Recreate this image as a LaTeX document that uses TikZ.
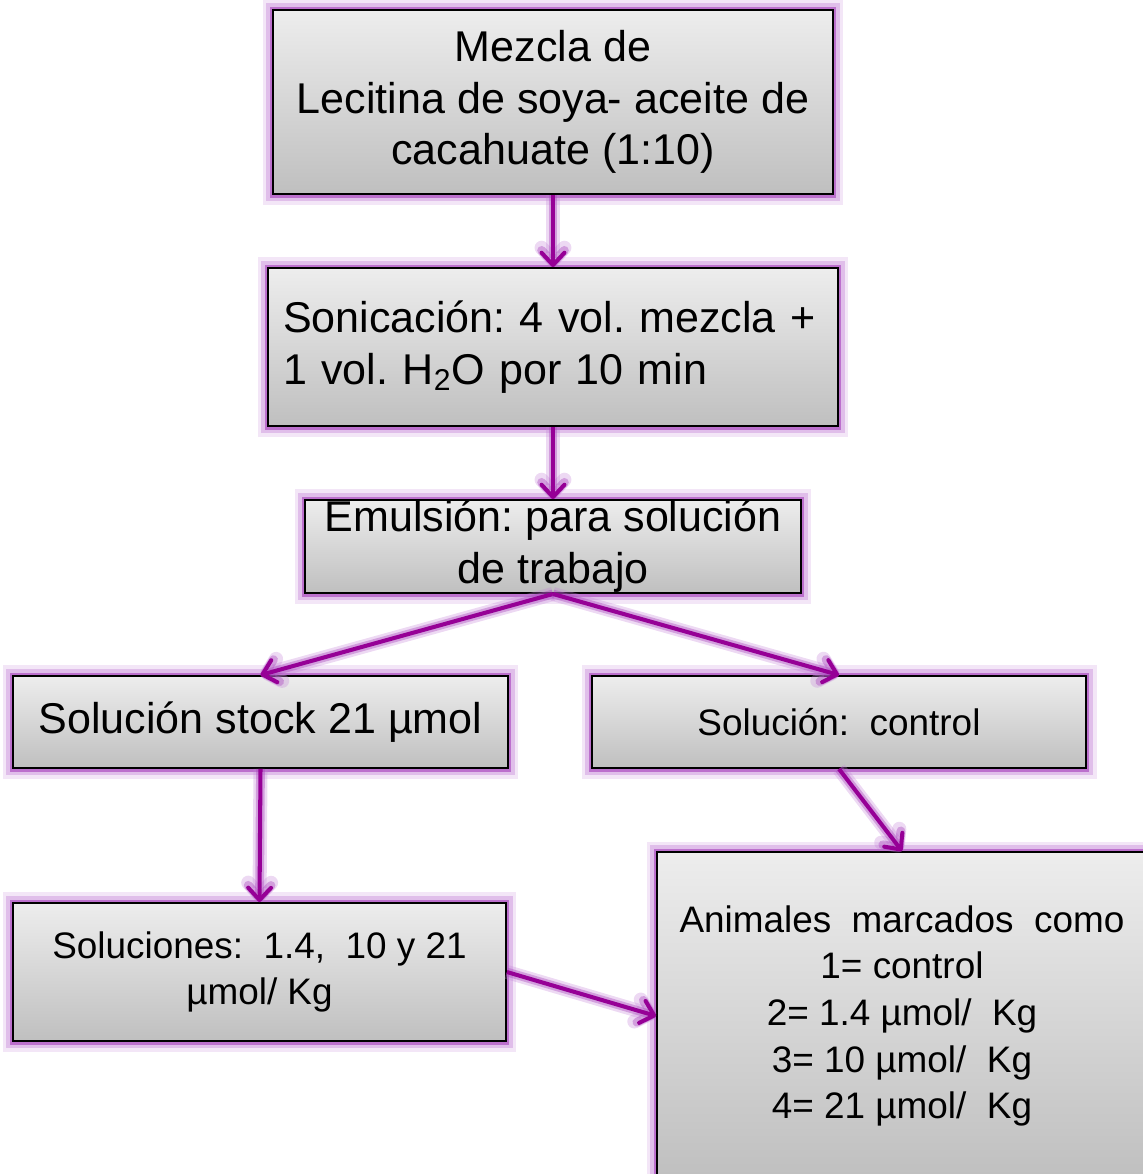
\documentclass[tikz,border=0pt]{standalone}
\usepackage{fontspec}
\setmainfont{Liberation Sans}
\usetikzlibrary{arrows.meta}
\definecolor{glowpurple}{RGB}{195,130,215}
\definecolor{glowdeep}{RGB}{170,70,190}
\definecolor{arrowpurple}{RGB}{150,0,150}
\frenchspacing

\begin{document}
\begin{tikzpicture}[x=0.02cm,y=-0.02cm,
    box/.style={draw=black,line width=1.1pt,top color=gray!14,bottom color=gray!50,
      preaction={draw=glowpurple,line width=12pt,opacity=0.2},
      preaction={draw=glowpurple,line width=8pt,opacity=0.4},
      preaction={draw=glowdeep,line width=4pt,opacity=0.65},
      inner sep=0pt,align=center},
    big/.style={font=\fontsize{24.5}{29.5}\selectfont},
    small/.style={font=\fontsize{21}{26.5}\selectfont},
    flow/.style={draw=arrowpurple,line width=2.3pt,
      -{Straight Barb[length=7pt,width=13pt,round]},
      preaction={draw=glowpurple,line width=8pt,opacity=0.3},
      preaction={draw=glowdeep,line width=5pt,opacity=0.4}}]
      \useasboundingbox (0,0) rectangle (1143,1174);
      \clip (0,0) rectangle (1143,1174);
      \node[box,big,minimum width=11.2cm,minimum height=3.68cm] (mezcla) at (553,102)
        {Mezcla de\\Lecitina de soya- aceite de\\cacahuate (1:10)};
      \node[box,big,minimum width=11.4cm,minimum height=3.16cm,text width=10.8cm,align=left] (sonic) at (553,347)
        {Sonicación: 4 vol. mezcla +\\1 vol. H\textsubscript{2}O por 10 min};
      \node[box,minimum width=9.92cm,minimum height=1.86cm] (emul) at (553,546.5) {};
      \node[big,align=center,inner sep=0pt] (emultxt) at (emul.center) {Emulsión: para solución\\de trabajo};
      \node[box,big,minimum width=9.9cm,minimum height=1.84cm] (stock) at (260.5,722) {Solución stock 21 µmol};
      \node[box,small,minimum width=9.88cm,minimum height=1.84cm] (control) at (839,722) {Solución:\ \ control};
      \node[box,small,minimum width=9.86cm,minimum height=2.76cm] (dosis) at (259.5,972)
        {Soluciones:\ \ 1.4,\ \ 10 y 21\\µmol/\ Kg};
      \node[box,small,minimum width=9.8cm,minimum height=6.56cm] (animales) at (902,1016)
        {Animales\ \ marcados\ \ como\\1= control\\2= 1.4 µmol/\ \ Kg\\3= 10 µmol/\ \ Kg\\4= 21 µmol/\ \ Kg};
      \draw[flow] (mezcla.south) -- (sonic.north);
      \draw[flow] (sonic.south) -- (emul.north);
      \draw[flow] (emul.south) -- (stock.north);
      \draw[flow] (emul.south) -- (control.north);
      \draw[flow] (stock.south) -- (dosis.north);
      \draw[flow] (control.south) -- (animales.north);
      \draw[flow] (dosis.east) -- (animales.west);
    \end{tikzpicture}
\end{document}
